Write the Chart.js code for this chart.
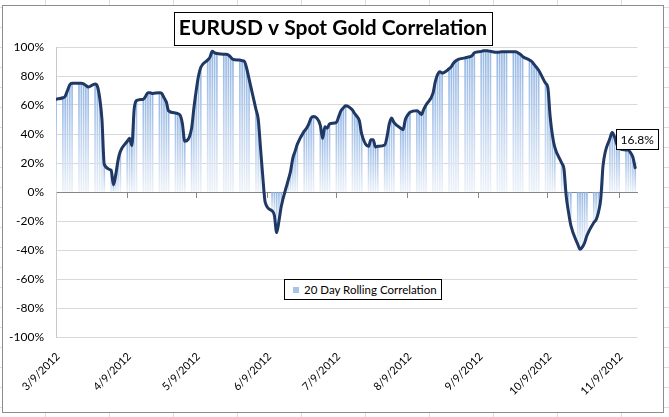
<!DOCTYPE html>
<html>
<head>
<meta charset="utf-8">
<script src="https://cdn.jsdelivr.net/npm/chart.js@4.4.1/dist/chart.umd.min.js"></script>
<style>
  html, body { margin: 0; padding: 0; }
  body {
    width: 669px; height: 417px; overflow: hidden; position: relative;
    background-color: #ffffff;
    background-image:
      linear-gradient(to right, #dadcdd 1px, transparent 1px),
      linear-gradient(to bottom, #dadcdd 1px, transparent 1px);
    background-size: 64px 20px;
    background-position: 45px 7px;
    font-family: Lato, "Open Sans", sans-serif;
  }
  #frame {
    position: absolute; left: 2px; top: 5px; width: 660px; height: 406px;
    border: 1px solid #8d8d8d; background: #fff;
  }
  #chart { position: absolute; left: 0; top: 0; }
  #legend {
    position: absolute; left: 281px; top: 273px; width: 156px; height: 19px;
    border: 1px solid #000; background: #fff; box-sizing: content-box;
    font: 11.5px Lato, sans-serif; color: #000; white-space: nowrap;
    display: flex; align-items: center;
  }
  #legend .sw { width: 6px; height: 6px; margin-left: 8px; margin-right: 5px; background: #a9c3e6; border: 0; }
</style>
</head>
<body>
<div id="frame">
  <canvas id="chart" width="660" height="406"></canvas>
  <div id="legend"></div>
</div>
<script>
// ---- data ----
const chartTitle = 'EURUSD v Spot Gold Correlation';
const seriesName = '20 Day Rolling Correlation';
const firstDay = '3/9/2012';   // first trading day
const lastDay = '11/16/2012';  // last trading day
const axisEnd = '11/17/2012';
const tickLabels = ['3/9/2012', '4/9/2012', '5/9/2012', '6/9/2012', '7/9/2012',
                    '8/9/2012', '9/9/2012', '10/9/2012', '11/9/2012'];
// rolling correlation in %, one value per weekday from firstDay to lastDay
const correlation = [
  64,
  65, 66, 70, 74, 75,
  75, 75, 74.5, 73.5, 72.5,
  74.5, 73, 65, 50, 19,
  15, 5, 12, 22, 28,
  35, 37, 32, 57, 63,
  64, 66, 68.5, 68.5, 68,
  68.5, 68, 65, 62, 56,
  54.5, 54, 53, 47, 35,
  44, 58, 70, 80, 86,
  91, 93, 97, 96, 95.5,
  95, 95, 94.5, 93, 91.5,
  91, 90.5, 90, 85, 78,
  57, 50, 30, 10, -7,
  -13, -16, -28, -20, -10,
  8, 14, 23, 28, 33,
  42, 44, 47, 51, 52,
  46, 37, 45, 44, 47,
  48, 52, 56, 58, 59.5,
  56.5, 54, 52, 49, 40,
  31.5, 36, 36, 31, 31.5,
  32.4, 38, 47, 51, 48,
  44, 43, 50, 53, 55,
  56, 55, 53.5, 57, 60,
  68, 76, 81, 83, 82,
  85, 86.5, 89, 90.5, 91.5,
  92.5, 93, 93.3, 94, 96,
  97, 97.5, 97.5, 97.3, 97,
  96.3, 96.5, 96.8, 96.8, 96.8,
  96.8, 96.8, 96, 95, 93.5,
  91, 90, 88, 86, 84,
  75, 72, 52, 39, 31,
  20, 16, -3, -14, -23,
  -36, -39.5, -38, -35, -30,
  -21, -19, -14, -5, 18,
  37, 41, 38, 33, 30,
  29, 29, 27, 24, 16.8
];
const yMin = -100, yMax = 100, yStep = 20;

// ---- helpers ----
function parseMDY(s) { const [m, d, y] = s.split('/').map(Number); return Date.UTC(y, m - 1, d); }
const DAY = 86400000;
const t0 = parseMDY(firstDay);
const dayOffset = s => Math.round((parseMDY(s) - t0) / DAY);
function weekdays(a, b) {
  const out = []; for (let t = parseMDY(a); t <= parseMDY(b); t += DAY) {
    const w = new Date(t).getUTCDay(); if (w !== 0 && w !== 6) out.push(Math.round((t - t0) / DAY));
  } return out;
}
const days = weekdays(firstDay, lastDay);
const points = correlation.map((v, i) => ({ x: days[i], y: v }));
const tickValues = tickLabels.map(dayOffset);
const xMax = dayOffset(axisEnd);

const FONT = 'Lato';

const barGradient = (ctx) => {
  const chart = ctx.chart;
  if (!chart.chartArea || ctx.type !== 'data') return '#a9c3e6';
  const ys = chart.scales.y;
  const v = ctx.raw.y;
  const a = ys.getPixelForValue(0), b = ys.getPixelForValue(v);
  const top = Math.min(a, b), bot = Math.max(a, b) + 0.5;
  const g = chart.ctx.createLinearGradient(0, top, 0, bot);
  g.addColorStop(0, '#94b6e4');
  g.addColorStop(1, '#eef3fa');
  return g;
};

const titleBoxPlugin = {
  id: 'titleBox',
  afterDraw(chart) {
    const tb = chart.titleBlock; if (!tb) return;
    const o = chart.options.plugins.title;
    const ctx = chart.ctx;
    ctx.save();
    ctx.font = `${o.font.weight} ${o.font.size}px ${o.font.family}`;
    const w = ctx.measureText(o.text).width;
    const lh = o.font.size * 1.2;
    const cy = tb.top + o.padding.top + lh / 2;
    const cx = tb.left + tb.width / 2;
    ctx.strokeStyle = '#000'; ctx.lineWidth = 1;
    ctx.strokeRect(Math.round(cx - w / 2 - 5) + 0.5, Math.round(cy - 16.5) + 0.5, Math.round(w + 10), 33);
    ctx.restore();
  }
};

const lastLabelPlugin = {
  id: 'lastLabel',
  afterDatasetsDraw(chart) {
    const meta = chart.getDatasetMeta(1);
    const el = meta.data[meta.data.length - 1];
    if (!el) return;
    const txt = correlation[correlation.length - 1].toFixed(1) + '%';
    const ctx = chart.ctx;
    ctx.save();
    ctx.font = `12px ${FONT}`;
    const w = ctx.measureText(txt).width;
    const cx = el.x + 2, cy = el.y - 29;
    const bw = Math.round(w + 9), bh = 20;
    const bx = Math.round(cx - bw / 2), by = Math.round(cy - bh / 2);
    ctx.fillStyle = '#fff'; ctx.fillRect(bx, by, bw, bh);
    ctx.strokeStyle = '#000'; ctx.lineWidth = 1; ctx.strokeRect(bx + 0.5, by + 0.5, bw, bh);
    ctx.fillStyle = '#000'; ctx.textAlign = 'center'; ctx.textBaseline = 'middle';
    ctx.fillText(txt, cx, cy + 1);
    ctx.restore();
  }
};

const chart = new Chart(document.getElementById('chart'), {
  data: {
    datasets: [
      { type: 'bar', label: seriesName, data: points, backgroundColor: barGradient,
        barThickness: 1, borderWidth: 0, order: 2 },
      { type: 'line', label: seriesName, data: points, borderColor: '#1f3864', borderWidth: 3,
        pointRadius: 0, cubicInterpolationMode: 'monotone', borderJoinStyle: 'round',
        borderCapStyle: 'round', order: 1 }
    ]
  },
  options: {
    responsive: false, animation: false, events: [],
    layout: { padding: 0 },
    plugins: {
      legend: { display: false }, tooltip: { enabled: false },
      title: { display: true, text: chartTitle, color: '#000',
        font: { family: FONT, size: 21, weight: 'bold' }, padding: { top: 10, bottom: 5.8 } }
    },
    scales: {
      x: { type: 'linear', position: 'bottom', min: 0, max: xMax, offset: false,
        afterBuildTicks: s => { s.ticks = tickValues.map(v => ({ value: v })); },
        afterFit: s => { s.height = 75; },
        grid: { display: false, drawTicks: false, offset: false }, border: { display: false },
        ticks: { callback: (v, i) => tickLabels[i], minRotation: 45, maxRotation: 45,
          autoSkip: false, padding: 13, labelOffset: 2, color: '#000', font: { family: FONT, size: 11 } } },
      x2: { type: 'linear', position: { y: 0 }, min: 0, max: xMax, offset: false,
        afterBuildTicks: s => { s.ticks = tickValues.map(v => ({ value: v })); },
        grid: { drawOnChartArea: false, drawTicks: true, tickLength: 5, color: '#868686', offset: false },
        border: { display: true, color: '#868686', width: 1 },
        ticks: { display: false } },
      y: { type: 'linear', position: 'left', min: yMin, max: yMax,
        afterFit: s => { s.width = 53; },
        ticks: { stepSize: yStep, callback: v => v + '%', padding: 12, color: '#000',
          font: { family: FONT, size: 12 } },
        grid: { color: '#d9d9d9', drawTicks: false },
        border: { color: '#c8c8c8' } },
      yR: { type: 'linear', position: 'right', display: true,
        afterFit: s => { s.width = 25.5; },
        ticks: { display: false }, grid: { display: false }, border: { display: false } }
    }
  },
  plugins: [titleBoxPlugin, lastLabelPlugin]
});

// HTML legend built from the dataset
const lg = document.getElementById('legend');
const ds = chart.data.datasets[0];
lg.innerHTML = '<span class="sw"></span><span></span>';
lg.lastChild.textContent = ds.label;
</script>
</body>
</html>
